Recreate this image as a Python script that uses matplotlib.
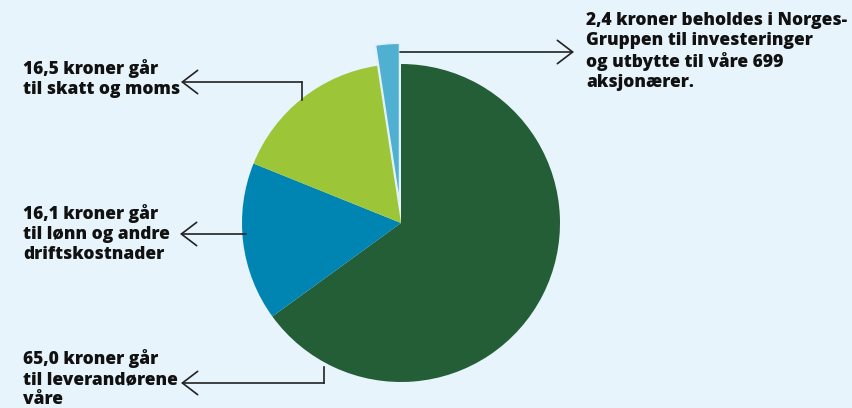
import matplotlib.pyplot as plt

# slices, clockwise from 12 o'clock
values = [65.0, 16.1, 16.5, 2.4]
colors = ['#245e37', '#0085b2', '#9cc538', '#4fb0d2']
labels = [
    '65,0 kroner går\ntil leverandørene\nvåre',
    '16,1 kroner går\ntil lønn og andre\ndriftskostnader',
    '16,5 kroner går\ntil skatt og moms',
    '2,4 kroner beholdes i Norges-\nGruppen til investeringer\nog utbytte til våre 699\naksjonærer.',
]
pull_out = [0, 0, 0, 0.13]

bg = '#e7f4fc'
W, H = 852, 408

fig = plt.figure(figsize=(W / 100, H / 100), dpi=100, facecolor=bg)
ax = fig.add_axes([0, 0, 1, 1])
ax.set_facecolor(bg)
ax.axis('off')

cx, cy, r = 401, 223, 159
# y axis is inverted, so counterclock=True draws clockwise on screen
wedges, _ = ax.pie(values, colors=colors, startangle=-90, counterclock=True,
                   center=(cx, cy), radius=r, explode=[p * r for p in pull_out],
                   wedgeprops=dict(linewidth=0))
wedges[3].set_edgecolor('#dff0f8')
wedges[3].set_linewidth(1.0)
ax.set_xlim(0, W)
ax.set_ylim(H, 0)
ax.set_aspect('equal')

font = dict(family='Open Sans', fontweight=800, fontsize=12.5, color='#111111',
            va='top', ha='left', linespacing=1.23)
ax.text(23, 349, labels[0], **font)
ax.text(23, 204, labels[1], **font)
ax.text(23, 59, labels[2], **font)
ax.text(586, 12, labels[3], **font)

arrow = dict(arrowstyle='->,head_length=0.55,head_width=0.42', lw=1.2, color='#222222',
             mutation_scale=20, shrinkA=0, shrinkB=0)
lk = dict(color='#222222', lw=1.2)

# 2,4
ax.annotate('', xy=(574, 52), xytext=(400, 52), arrowprops=arrow)
# 16,5
ax.plot([302, 302], [100, 82], **lk)
ax.annotate('', xy=(181, 82), xytext=(302, 82), arrowprops=arrow)
# 16,1
ax.annotate('', xy=(180, 234), xytext=(246, 234), arrowprops=arrow)
# 65,0
ax.plot([324, 324], [367, 383], **lk)
ax.annotate('', xy=(181, 383), xytext=(324, 383), arrowprops=arrow)

fig.savefig('out.png', dpi=100, facecolor=bg)
